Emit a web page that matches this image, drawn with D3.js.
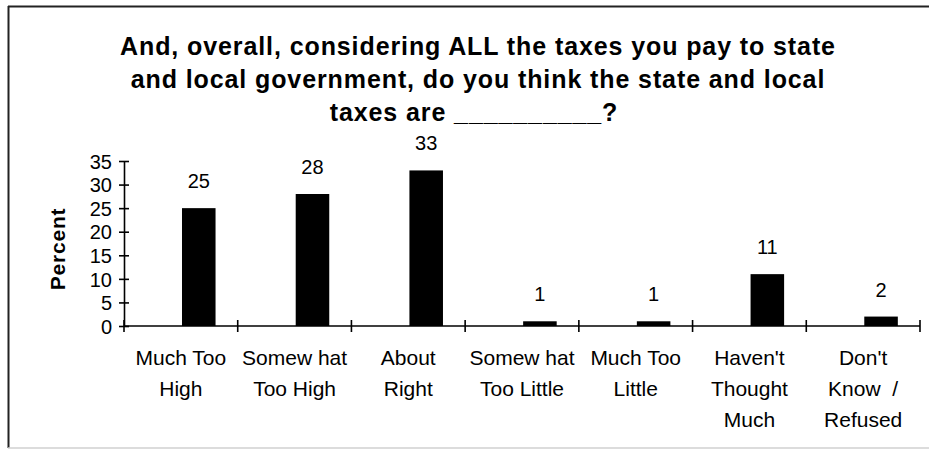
<!DOCTYPE html>
<html>
<head>
<meta charset="utf-8">
<script src="https://cdn.jsdelivr.net/npm/d3@7/dist/d3.min.js"></script>
<style>
  html, body { margin: 0; padding: 0; background: #fff; }
  svg { display: block; }
  text { font-family: Arial, "Liberation Sans", sans-serif; fill: #000; }
  .cat { white-space: pre; }
</style>
</head>
<body>
<svg id="chart" width="929" height="449"></svg>
<script>
const categories = [
  ["Much Too", "High"],
  ["Somew hat", "Too High"],
  ["About", "Right"],
  ["Somew hat", "Too Little"],
  ["Much Too", "Little"],
  ["Haven't", "Thought", "Much"],
  ["Don't", "Know  /", "Refused"]
];
const values = [25, 28, 33, 1, 1, 11, 2];
const yTicks = [0, 5, 10, 15, 20, 25, 30, 35];
const titleLines = [
  "And, overall, considering ALL the taxes you pay to state",
  "and local government, do you think the state and local",
  "taxes are __________?"
];
const yLabel = "Percent";

(function () {
const W = 929, H = 449;
const svg = d3.select("#chart");

// frame
svg.append("line").attr("x1", 8).attr("x2", W).attr("y1", 6.5).attr("y2", 6.5)
  .attr("stroke", "#222").attr("stroke-width", 2);
svg.append("line").attr("x1", 8.5).attr("x2", 8.5).attr("y1", 6).attr("y2", 448)
  .attr("stroke", "#222").attr("stroke-width", 2);
svg.append("line").attr("x1", 8).attr("x2", W).attr("y1", 448).attr("y2", 448)
  .attr("stroke", "#d0d0d0").attr("stroke-width", 1.5);

const pLeft = 124, pRight = 920, pTop = 161, pBottom = 326;
const idx = d3.range(values.length);
const x = d3.scaleBand().domain(idx).range([pLeft, pRight]).paddingInner(0).paddingOuter(0);
const y = d3.scaleLinear().domain([0, 35]).range([pBottom, pTop]);
const bw = x.bandwidth();

// title
const title = svg.append("text").attr("text-anchor", "middle")
  .style("font-weight", "bold").style("font-size", "25px").style("letter-spacing", "0.9px");
titleLines.forEach((t, i) => {
  title.append("tspan").attr("x", i === 2 ? 474 : 478).attr("y", 55 + i * 33).text(t);
});

// bars
svg.selectAll("rect.bar").data(values).enter().append("rect")
  .attr("class", "bar")
  .attr("x", (d, i) => x(i) + bw * 0.51)
  .attr("width", bw * 0.295)
  .attr("y", d => y(d))
  .attr("height", d => y(0) - y(d))
  .attr("fill", "#000");

// value labels
svg.selectAll("text.val").data(values).enter().append("text")
  .attr("class", "val")
  .attr("text-anchor", "middle")
  .attr("x", (d, i) => x(i) + bw * 0.51 + bw * 0.1475)
  .attr("y", d => y(d) - 20)
  .style("font-size", "20px")
  .text(d => d);

// y axis
const yAxis = d3.axisLeft(y).tickValues(yTicks).tickSizeInner(5).tickSizeOuter(0).tickPadding(7);
const gy = svg.append("g").attr("transform", `translate(${pLeft},0)`).call(yAxis);
gy.select(".domain").attr("stroke", "#000").attr("stroke-width", 1.6);
gy.selectAll(".tick line").attr("x2", 5).attr("x1", -5).attr("stroke", "#000").attr("stroke-width", 1.6);
gy.selectAll(".tick text").style("font-size", "20px").attr("x", -12).attr("dy", "0.36em")
  .style("font-family", "Arial, 'Liberation Sans', sans-serif").attr("fill", "#000");

// x axis line and boundary ticks
svg.append("line").attr("x1", pLeft).attr("x2", pRight).attr("y1", pBottom).attr("y2", pBottom)
  .attr("stroke", "#000").attr("stroke-width", 1.6);
const bounds = idx.map(i => x(i)).concat([pRight]);
svg.selectAll("line.xt").data(bounds).enter().append("line")
  .attr("class", "xt")
  .attr("x1", d => d).attr("x2", d => d)
  .attr("y1", pBottom - 6).attr("y2", pBottom + 6)
  .attr("stroke", "#000").attr("stroke-width", 1.6);

// category labels
const cl = svg.selectAll("text.cat").data(categories).enter().append("text")
  .attr("class", "cat").attr("text-anchor", "middle").style("font-size", "21px");
cl.each(function(lines, i) {
  const t = d3.select(this);
  lines.forEach((ln, j) => {
    t.append("tspan").attr("x", x(i) + bw / 2).attr("y", 365 + j * 31).text(ln);
  });
});

// y label
svg.append("text").attr("text-anchor", "middle")
  .attr("transform", "translate(65,249) rotate(-90)")
  .style("font-weight", "bold").style("font-size", "21px").style("letter-spacing", "0.8px")
  .text(yLabel);
})();
</script>
</body>
</html>
